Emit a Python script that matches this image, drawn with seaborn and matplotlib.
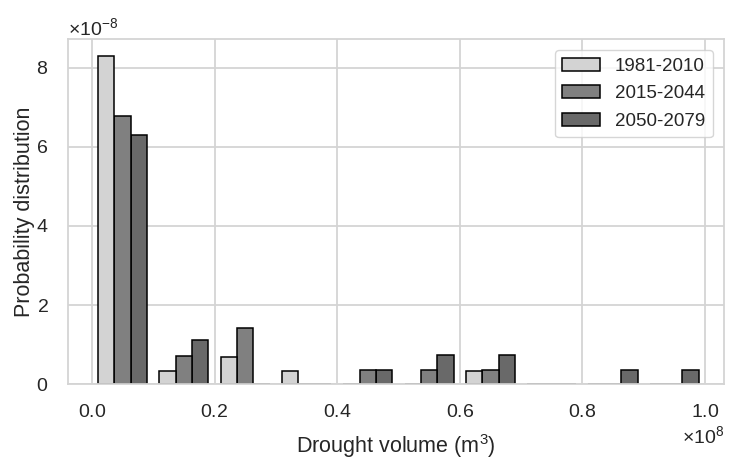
import numpy as np
import pandas as pd
import matplotlib
matplotlib.use("Agg")
import matplotlib.pyplot as plt
import seaborn as sns

# Bin edges of drought volume (m^3) and the probability density per bin (x1e-8)
bin_edges = [0.0, 0.1e8, 0.2e8, 0.3e8, 0.4e8, 0.5e8, 0.6e8, 0.7e8, 0.8e8, 0.9e8, 1.0e8]
periods = ['1981-2010', '2015-2044', '2050-2079']
dens_1981 = [8.28, 0.345, 0.69, 0.345, 0.0, 0.0, 0.345, 0.0, 0.0, 0.0]
dens_2015 = [6.78, 0.714, 1.43, 0.0, 0.357, 0.357, 0.357, 0.0, 0.0, 0.0]
dens_2050 = [6.29, 1.11, 0.0, 0.0, 0.37, 0.74, 0.74, 0.0, 0.37, 0.37]
colors = ['#d3d3d3', '#808080', '#696969']

sns.set_theme(style="whitegrid", rc={'grid.color': '#d4d4d4', 'grid.linewidth': 1.3,
                                     'axes.edgecolor': '#d4d4d4', 'axes.linewidth': 1.3})
plt.rcParams['font.family'] = ['Liberation Sans', 'DejaVu Sans']
plt.rcParams['mathtext.fontset'] = 'custom'
plt.rcParams['mathtext.rm'] = 'Liberation Sans'
plt.rcParams['mathtext.it'] = 'Liberation Sans:italic'
plt.rcParams['mathtext.bf'] = 'Liberation Sans:bold'

centers = [(bin_edges[i] + bin_edges[i + 1]) / 2 for i in range(len(bin_edges) - 1)]
rows = []
for name, dens in zip(periods, [dens_1981, dens_2015, dens_2050]):
    for c, d in zip(centers, dens):
        rows.append({'volume': c, 'density': d * 1e-8, 'period': name})
df = pd.DataFrame(rows)

fig, ax = plt.subplots(figsize=(7.35, 4.59), dpi=100)
sns.histplot(data=df, x='volume', weights='density', hue='period', hue_order=periods,
             bins=bin_edges, multiple='dodge', shrink=0.8, palette=colors,
             edgecolor='black', linewidth=1.1, alpha=1, ax=ax)

ax.set_xlabel('Drought volume (m$^3$)', fontsize=15.5, color='#262626', labelpad=8)
ax.set_ylabel('Probability distribution', fontsize=15.5, color='#262626', labelpad=1)
ax.set_xticks([0, 0.2e8, 0.4e8, 0.6e8, 0.8e8, 1.0e8])
ax.set_yticks([0, 2e-8, 4e-8, 6e-8, 8e-8])
ax.ticklabel_format(style='sci', axis='both', scilimits=(0, 0), useMathText=True)
ax.tick_params(labelsize=14, colors='#262626')
ax.tick_params(axis='y', pad=8)
ax.tick_params(axis='x', pad=8)
ax.xaxis.get_offset_text().set_fontsize(14)
ax.yaxis.get_offset_text().set_fontsize(14)
ax.set_xlim(-0.039e8, 1.031e8)
ax.set_ylim(0, 8.72e-8)
sns.move_legend(ax, 'upper right', title=None, frameon=True, fontsize=13.5,
                labelspacing=0.55, borderaxespad=0.6)

fig.subplots_adjust(left=0.0925, right=0.985, top=0.915, bottom=0.163)
fig.savefig('out.png', dpi=100)
